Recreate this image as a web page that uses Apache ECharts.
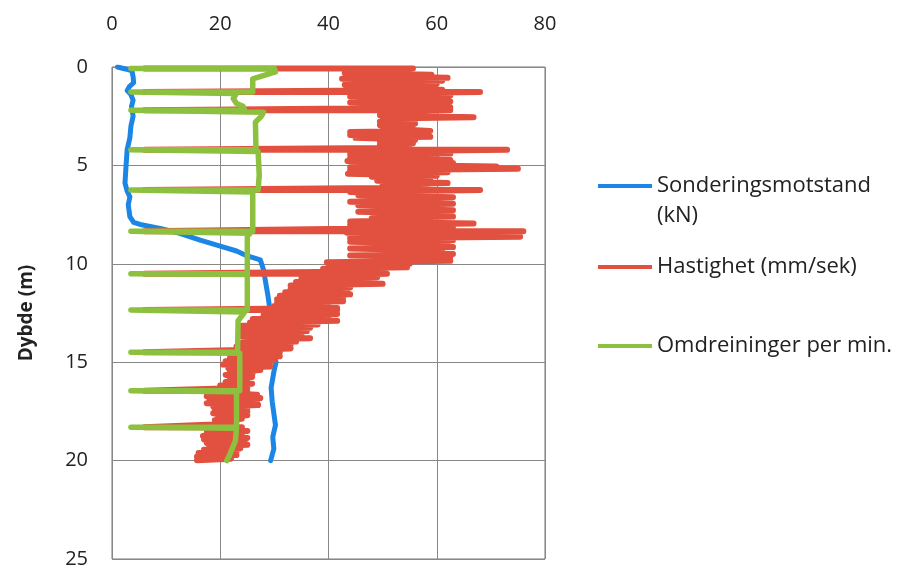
<!DOCTYPE html>
<html><head><meta charset="utf-8">
<script src="https://cdn.jsdelivr.net/npm/echarts/dist/echarts.min.js"></script>
<style>html,body{margin:0;padding:0;background:#fff}#c{width:908px;height:574px}</style>
</head><body><div id="c"></div><script>
// Axis ranges / labels
const xTickLabels = [0, 20, 40, 60, 80];
const yTickLabels = [0, 5, 10, 15, 20, 25];
const seriesNames = ['Sonderingsmotstand (kN)', 'Hastighet (mm/sek)', 'Omdreininger per min.'];

// Sonderingsmotstand (kN) — blue
const blueDepth = [0, 0.1, 0.2, 0.5, 0.8, 1.0, 1.2, 1.4, 1.7, 2.0, 2.5, 3.0, 3.6, 4.2, 5.0, 5.9, 6.3, 6.6, 7.0, 7.6, 7.9, 8.0, 8.2, 8.45, 8.8, 9.1, 9.35, 9.6, 9.8, 10.3, 10.8, 11.6, 12.35, 13.3, 14.3, 15.0, 15.5, 16.3, 17.0, 17.6, 18.2, 18.8, 19.4, 20.0];
const blueValue = [1.0, 2.5, 3.7, 3.9, 4.0, 3.2, 2.8, 3.5, 3.9, 3.6, 3.9, 3.5, 3.3, 2.8, 2.6, 2.4, 2.8, 3.3, 3.0, 3.3, 4.0, 5.2, 8.9, 12.5, 16.3, 20.0, 23.0, 25.0, 27.4, 28.0, 28.3, 28.8, 29.2, 29.5, 29.8, 30.3, 29.9, 29.4, 29.6, 29.9, 30.2, 29.7, 29.9, 29.3];

// Hastighet (mm/sek) — red
const redDepth = [0.07, 0.07, 0.20, 0.25, 0.30, 0.40, 0.45, 0.55, 0.60, 0.70, 0.75, 0.85, 0.90, 1.00, 1.05, 1.15, 1.20, 1.27, 1.27,
  1.35, 1.45, 1.50, 1.60, 1.65, 1.75, 1.80, 1.90, 1.95, 2.05, 2.10, 2.20, 2.20,
  2.30, 2.35, 2.45, 2.55, 2.62, 2.70, 2.78, 2.88, 2.95, 3.05, 3.12, 3.25, 3.30, 3.40, 3.45, 3.55, 3.60, 3.70, 3.78, 3.88, 3.95, 4.05, 4.12, 4.20, 4.20,
  4.30, 4.40, 4.45, 4.55, 4.62, 4.72, 4.78, 4.88, 4.95, 5.05, 5.10, 5.17, 5.25, 5.35, 5.42, 5.52, 5.58, 5.70, 5.78, 5.90, 5.98, 6.10, 6.15, 6.25, 6.25,
  6.35, 6.45, 6.52, 6.62, 6.68, 6.78, 6.85, 6.95, 7.02, 7.12, 7.18, 7.28, 7.35, 7.45, 7.52, 7.60, 7.68, 7.78, 7.85, 7.95, 8.02, 8.12, 8.20, 8.35, 8.35,
  8.42, 8.48, 8.55, 8.62, 8.70, 8.80, 8.88, 8.98, 9.05, 9.15, 9.22, 9.32, 9.40, 9.50, 9.58, 9.68, 9.75, 9.85, 9.92, 10.00, 10.08, 10.18, 10.25, 10.35, 10.42, 10.50, 10.50,
  10.58, 10.68, 10.75, 10.85, 10.92, 11.02, 11.10, 11.20, 11.28, 11.38, 11.45, 11.55, 11.62, 11.72, 11.80, 11.90, 11.98, 12.08, 12.15, 12.25, 12.35, 12.35,
  12.45, 12.55, 12.62, 12.72, 12.80, 12.90, 12.98, 13.08, 13.15, 13.25, 13.32, 13.42, 13.50, 13.60, 13.68, 13.78, 13.85, 13.95, 14.02, 14.12, 14.20, 14.30, 14.38, 14.50, 14.50,
  14.60, 14.70, 14.78, 14.88, 14.95, 15.05, 15.12, 15.22, 15.30, 15.40, 15.48, 15.58, 15.65, 15.75, 15.82, 15.92, 16.00, 16.10, 16.18, 16.28, 16.35, 16.45, 16.45,
  16.55, 16.65, 16.72, 16.82, 16.90, 17.00, 17.08, 17.18, 17.25, 17.35, 17.42, 17.52, 17.60, 17.70, 17.78, 17.88, 17.95, 18.05, 18.15, 18.30, 18.30,
  18.40, 18.50, 18.58, 18.68, 18.75, 18.85, 18.92, 19.02, 19.10, 19.20, 19.28, 19.38, 19.45, 19.55, 19.62, 19.72, 19.80, 19.90, 19.98];
const redValue = [6, 55.6, 49, 55, 43, 59, 44, 62, 42.5, 61, 44, 60, 43, 58, 44, 61, 49, 6, 68,
  44, 62.5, 44, 60, 45, 62.5, 44, 61, 48, 62.5, 50, 6, 62.5,
  50, 58.8, 49.5, 66.8, 50, 56, 49.5, 56, 49.5, 55.5, 50, 58.8, 44, 57, 44, 58.8, 45, 56, 49.5, 55.6, 49.5, 55, 50, 6, 73,
  44, 62.5, 44, 60, 44, 62.5, 43.5, 63, 45, 71, 44, 75, 44, 62, 43.6, 60, 48, 58.8, 49, 62, 50, 58, 49.5, 6, 68,
  44, 58.8, 45.5, 63, 49.5, 57, 44, 63, 45.5, 57, 49.5, 63, 45.5, 59, 49.5, 63, 48, 56, 44, 66.8, 44, 63, 48, 6, 76,
  43.4, 60, 44, 75.4, 44, 63, 44, 62, 49, 63, 44, 61, 49.5, 63, 44, 62.5, 49.5, 62.5, 39.7, 55, 40, 54.5, 39, 50, 38, 6, 50.8,
  36, 49, 35, 47, 34, 50, 33, 44, 33, 43.4, 32, 44, 31, 42.7, 30.5, 42.7, 30.5, 40, 30, 41.6, 6, 41.6,
  29.6, 41.6, 28, 40, 26, 41.6, 25.5, 38, 24, 36.6, 23.7, 36, 24, 35, 23.7, 36.6, 24.5, 34, 23.7, 33, 23, 33, 23.7, 6, 31,
  22.5, 31, 21.8, 30, 21, 29.2, 20.5, 29.2, 21.5, 27.4, 21.8, 26, 21, 25.9, 21.8, 25, 21, 25.9, 20, 25, 19, 6, 25,
  18.7, 26.8, 17.5, 27.4, 18, 26.8, 17.5, 27, 18.7, 25, 19, 25, 18.7, 25, 19.5, 24, 19, 23, 20, 6, 24,
  19, 25, 17.5, 24, 16.8, 25, 17, 24.5, 17.5, 25, 18, 23.7, 17, 23, 16, 23, 15.7, 22, 15.7];

// Omdreininger per min. — green
const greenDepth = [0.07, 0.07, 0.25, 0.6, 1.27, 1.27, 1.35, 1.6, 1.85, 2.0, 2.2, 2.2, 2.3, 2.5, 2.8, 4.2, 4.2, 4.3, 5.5, 6.25, 6.25, 6.35, 8.35, 8.35, 8.45, 8.6, 10.5, 10.5, 10.55, 12.35, 12.35, 12.45, 12.9, 14.5, 14.5, 14.55, 16.45, 16.45, 16.5, 18.3, 18.3, 18.35, 19.0, 19.4, 19.8, 20.0];
const greenValue = [3.5, 30, 30.2, 26, 26, 3.5, 23, 22.4, 23, 24.2, 24.5, 3.5, 28, 27.6, 26.5, 26.6, 3.5, 27, 27.2, 27, 3.5, 26, 26, 3.5, 25.5, 25, 25, 3.5, 25, 25, 3.5, 24.5, 23.3, 23.2, 3.5, 23.6, 23.6, 3.5, 23, 23, 3.5, 23, 22.8, 22.2, 21.6, 21.2];

const colors = ['#1b86e6', '#e2513f', '#8cc03e'];
const pairs = (vals, depths) => vals.map((v, i) => [v, depths[i]]);

const chart = echarts.init(document.getElementById('c'), null, {renderer: 'canvas'});
const fontFamily = '"Open Sans", "Liberation Sans", sans-serif';
const legendFont = 22;
const lineSeries = (name, data, color, width) => ({
  name, type: 'line', data, showSymbol: false, symbol: 'none', animation: false,
  lineStyle: {color, width, join: 'round', cap: 'round'}, itemStyle: {color}
});
const legendItem = (name, top, formatter) => ({
  data: [name], left: 598, top, padding: 0, icon: 'rect', itemWidth: 54, itemHeight: 4,
  formatter: formatter || '{name}', selectedMode: false,
  textStyle: {fontSize: legendFont, color: '#222', fontFamily, lineHeight: 26}
});
chart.setOption({
  animation: false,
  grid: {left: 112, top: 67, width: 433, height: 492, show: true, borderColor: '#777', borderWidth: 1},
  xAxis: {
    type: 'value', position: 'top', min: xTickLabels[0], max: xTickLabels[xTickLabels.length - 1], interval: 20,
    axisLine: {show: false}, axisTick: {show: false},
    axisLabel: {fontSize: 20, color: '#222', margin: 33, fontFamily},
    splitLine: {show: true, lineStyle: {color: '#888', width: 1}}
  },
  yAxis: {
    type: 'value', inverse: true, min: yTickLabels[0], max: yTickLabels[yTickLabels.length - 1], interval: 5,
    name: 'Dybde (m)', nameLocation: 'middle', nameGap: 76, nameRotate: 90,
    nameTextStyle: {fontSize: 19, fontWeight: 'bold', color: '#222', fontFamily},
    axisLine: {show: false}, axisTick: {show: false},
    axisLabel: {fontSize: 20, color: '#222', margin: 24, fontFamily},
    splitLine: {show: true, lineStyle: {color: '#888', width: 1}}
  },
  legend: [
    legendItem(seriesNames[0], 173, () => 'Sonderingsmotstand'),
    legendItem(seriesNames[1], 254),
    legendItem(seriesNames[2], 333)
  ],
  graphic: [
    {type: 'text', x: 657, y: 216, silent: true,
      style: {text: '(kN)', font: legendFont + 'px "Open Sans", "Liberation Sans", sans-serif', fill: '#222', verticalAlign: 'middle'}}
  ],
  series: [
    lineSeries(seriesNames[0], pairs(blueValue, blueDepth), colors[0], 5),
    lineSeries(seriesNames[1], pairs(redValue, redDepth), colors[1], 6),
    lineSeries(seriesNames[2], pairs(greenValue, greenDepth), colors[2], 5.5)
  ]
});
</script></body></html>
